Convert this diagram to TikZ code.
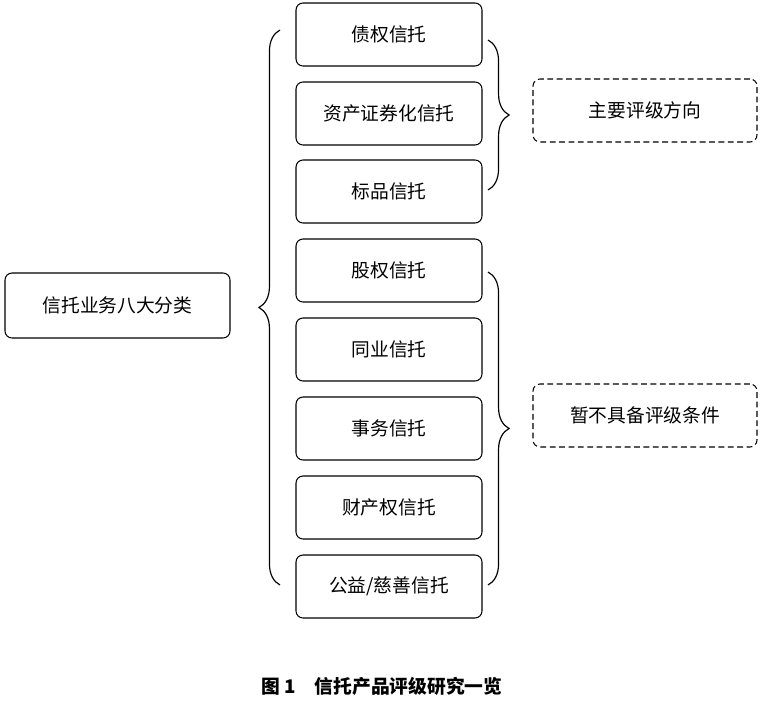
\documentclass[tikz,border=0pt]{standalone}
\usepackage{fontspec}
\setmainfont{Noto Sans CJK SC}
\usetikzlibrary{decorations.pathreplacing}
\tikzset{
  kind/.style={draw, line width=0.9pt, rounded corners=6pt, minimum width=186*0.03cm, minimum height=63*0.03cm, font=\fontsize{16}{19}\selectfont},
  aim/.style={kind, dash pattern=on 5pt off 3pt, minimum width=224*0.03cm},
  bracket/.style={decorate, decoration={brace, amplitude=18pt}, line width=1pt}
}
\begin{document}
\begin{tikzpicture}[x=0.03cm, y=-0.03cm]
\useasboundingbox (0,0) rectangle (764,700);
\node[kind, minimum width=225*0.03cm, minimum height=65*0.03cm] (root) at (117.5,305.5) {信托业务八大分类};
\node[kind] (k1) at (389,34.5) {债权信托};
\node[kind] (k2) at (389,113.5) {资产证券化信托};
\node[kind] (k3) at (389,191.5) {标品信托};
\node[kind] (k4) at (389,270.5) {股权信托};
\node[kind] (k5) at (389,349.5) {同业信托};
\node[kind] (k6) at (389,428.5) {事务信托};
\node[kind] (k7) at (389,507.5) {财产权信托};
\node[kind] (k8) at (389,586.5) {公益/慈善信托};
\node[aim] (a1) at (645,110.5) {主要评级方向};
\node[aim] (a2) at (645,415.5) {暂不具备评级条件};
% braces
\coordinate (b0) at (280,30);
\coordinate (b1) at (280,585);
\draw[bracket] (b1) -- (b0);
\coordinate (c0) at (488,40);
\coordinate (c1) at (488,190);
\draw[bracket] (c0) -- (c1);
\coordinate (d0) at (488,272);
\coordinate (d1) at (488,585);
\draw[bracket] (d0) -- (d1);
\node[font=\bfseries\fontsize{16}{19}\selectfont] (cap) at (382,686) {图 1\quad 信托产品评级研究一览};
\end{tikzpicture}
\end{document}
